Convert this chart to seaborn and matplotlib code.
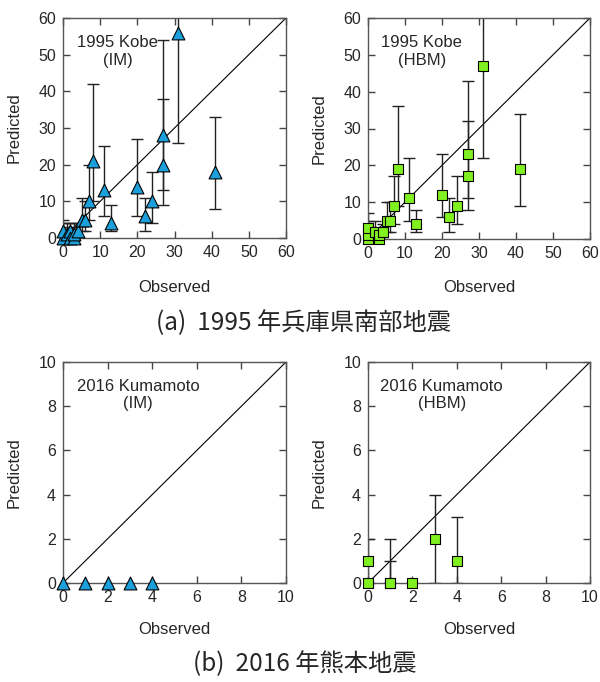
import numpy as np
import pandas as pd
import matplotlib
matplotlib.use("Agg")
import matplotlib.pyplot as plt
import seaborn as sns

# ---------------- data ----------------
# 1995 Kobe, IM
kobe_im_obs  = [0, 0, 1, 2, 2, 3, 3, 4, 5, 6, 7, 8, 11, 13, 20, 22, 24, 27, 27, 31, 41]
kobe_im_pred = [0, 2, 1, 2, 0, 0, 1, 2, 5, 5, 10, 21, 13, 4, 14, 6, 10, 28, 20, 56, 18]
kobe_im_lo   = [0, 0, 0, 0, 0, 0, 0, 0, 2, 2, 5, 10, 6, 2, 6, 2, 4, 13, 9, 26, 8]
kobe_im_hi   = [4, 5, 4, 4, 3, 3, 4, 4, 11, 10, 20, 42, 25, 9, 27, 11, 18, 54, 38, 75, 33]

# 1995 Kobe, HBM
kobe_hbm_obs  = [0, 0, 0, 2, 3, 3, 4, 5, 6, 7, 8, 11, 13, 20, 22, 24, 27, 27, 31, 41]
kobe_hbm_pred = [0, 1, 3, 2, 0, 1, 2, 5, 5, 9, 19, 11, 4, 12, 6, 9, 23, 17, 47, 19]
kobe_hbm_lo   = [0, 0, 0, 0, 0, 0, 0, 2, 2, 4, 9, 5, 2, 6, 2, 4, 11, 8, 22, 9]
kobe_hbm_hi   = [3, 5, 7, 5, 3, 3, 4, 10, 10, 17, 36, 22, 8, 23, 11, 17, 43, 32, 75, 34]

# 2016 Kumamoto, IM
kuma_im_obs  = [0, 1, 2, 3, 4]
kuma_im_pred = [0, 0, 0, 0, 0]
kuma_im_lo   = [0, 0, 0, 0, 0]
kuma_im_hi   = [0, 0, 0, 0, 0]

# 2016 Kumamoto, HBM
kuma_hbm_obs  = [0, 0, 1, 1, 2, 3, 4]
kuma_hbm_pred = [0, 1, 0, 0, 0, 2, 1]
kuma_hbm_lo   = [0, 0, 0, 0, 0, 0, 0]
kuma_hbm_hi   = [0, 2, 2, 1, 0, 4, 3]

kobe_ticks = [0, 10, 20, 30, 40, 50, 60]
kuma_ticks = [0, 2, 4, 6, 8, 10]

caption_a = "(a)  1995 年兵庫県南部地震"
caption_b = "(b)  2016 年熊本地震"

# ---------------- style ----------------
sns.set_style("ticks")
plt.rcParams["font.family"] = ["Liberation Sans", "Noto Sans CJK JP", "DejaVu Sans"]

IM_COLOR = "#1ba0dc"
HBM_COLOR = "#80f020"

fig = plt.figure(figsize=(6.0, 6.82), dpi=100)
W, H = 600, 682


def add_ax(left, top, right, bottom):
    return fig.add_axes([left / W, (H - bottom) / H, (right - left) / W, (bottom - top) / H])


def panel(ax, obs, pred, lo, hi, marker, color, size, ticks, label, txt_x, txt_y):
    lim = ticks[-1]
    df = pd.DataFrame({"obs": obs, "pred": pred, "lo": lo, "hi": hi})
    ax.plot([0, lim], [0, lim], color="black", lw=0.8, zorder=1)
    bars = df[df["hi"] > df["lo"]]
    if len(bars):
        ax.errorbar(bars["obs"], bars["pred"],
                    yerr=[bars["pred"] - bars["lo"], bars["hi"] - bars["pred"]],
                    fmt="none", ecolor="#222222", elinewidth=1.0,
                    capsize=4.5, capthick=1.0, zorder=2)
    sns.scatterplot(data=df, x="obs", y="pred", marker=marker, s=size,
                    color=color, edgecolor="black", linewidth=0.8,
                    ax=ax, zorder=3, clip_on=False, legend=False)
    ax.set_xlim(0, lim)
    ax.set_ylim(0, lim)
    ax.set_xticks(ticks)
    ax.set_yticks(ticks)
    ax.tick_params(direction="in", top=True, right=True, length=5, width=1,
                   color="#444444", labelsize=11.5, pad=5)
    for sp in ax.spines.values():
        sp.set_visible(True)
        sp.set_color("#555555")
        sp.set_linewidth(1.0)
    ax.set_xlabel("Observed", fontsize=12, va="center")
    ax.set_ylabel("Predicted", fontsize=12, va="center")
    ax.text(txt_x, txt_y, label, transform=ax.transAxes, ha="center", va="center",
            fontsize=12, linespacing=1.2)


ax1 = add_ax(63, 18, 286, 238)
ax2 = add_ax(368, 18, 590, 239)
ax3 = add_ax(63, 362, 286, 583)
ax4 = add_ax(368, 362, 590, 583)

panel(ax1, kobe_im_obs, kobe_im_pred, kobe_im_lo, kobe_im_hi, "^", IM_COLOR, 85,
      kobe_ticks, "1995 Kobe\n(IM)", 0.244, 0.848)
panel(ax2, kobe_hbm_obs, kobe_hbm_pred, kobe_hbm_lo, kobe_hbm_hi, "s", HBM_COLOR, 50,
      kobe_ticks, "1995 Kobe\n(HBM)", 0.242, 0.848)
panel(ax3, kuma_im_obs, kuma_im_pred, kuma_im_lo, kuma_im_hi, "^", IM_COLOR, 85,
      kuma_ticks, "2016 Kumamoto\n(IM)", 0.338, 0.852)
panel(ax4, kuma_hbm_obs, kuma_hbm_pred, kuma_hbm_lo, kuma_hbm_hi, "s", HBM_COLOR, 50,
      kuma_ticks, "2016 Kumamoto\n(HBM)", 0.332, 0.852)

for ax, w, h, dy in [(ax1, 223, 220, 49), (ax2, 222, 221, 48),
                     (ax3, 223, 221, 46), (ax4, 222, 221, 46)]:
    ax.xaxis.set_label_coords(0.5, -dy / h)
    ax.yaxis.set_label_coords(-48.5 / w, 0.5)

fig.text(303 / W, 1 - 323 / H, caption_a, ha="center", va="center", fontsize=17.5,
         family=["Noto Sans CJK JP", "DejaVu Sans"])
fig.text(305 / W, 1 - 664 / H, caption_b, ha="center", va="center", fontsize=17.5,
         family=["Noto Sans CJK JP", "DejaVu Sans"])

fig.savefig("out.png", dpi=100)
